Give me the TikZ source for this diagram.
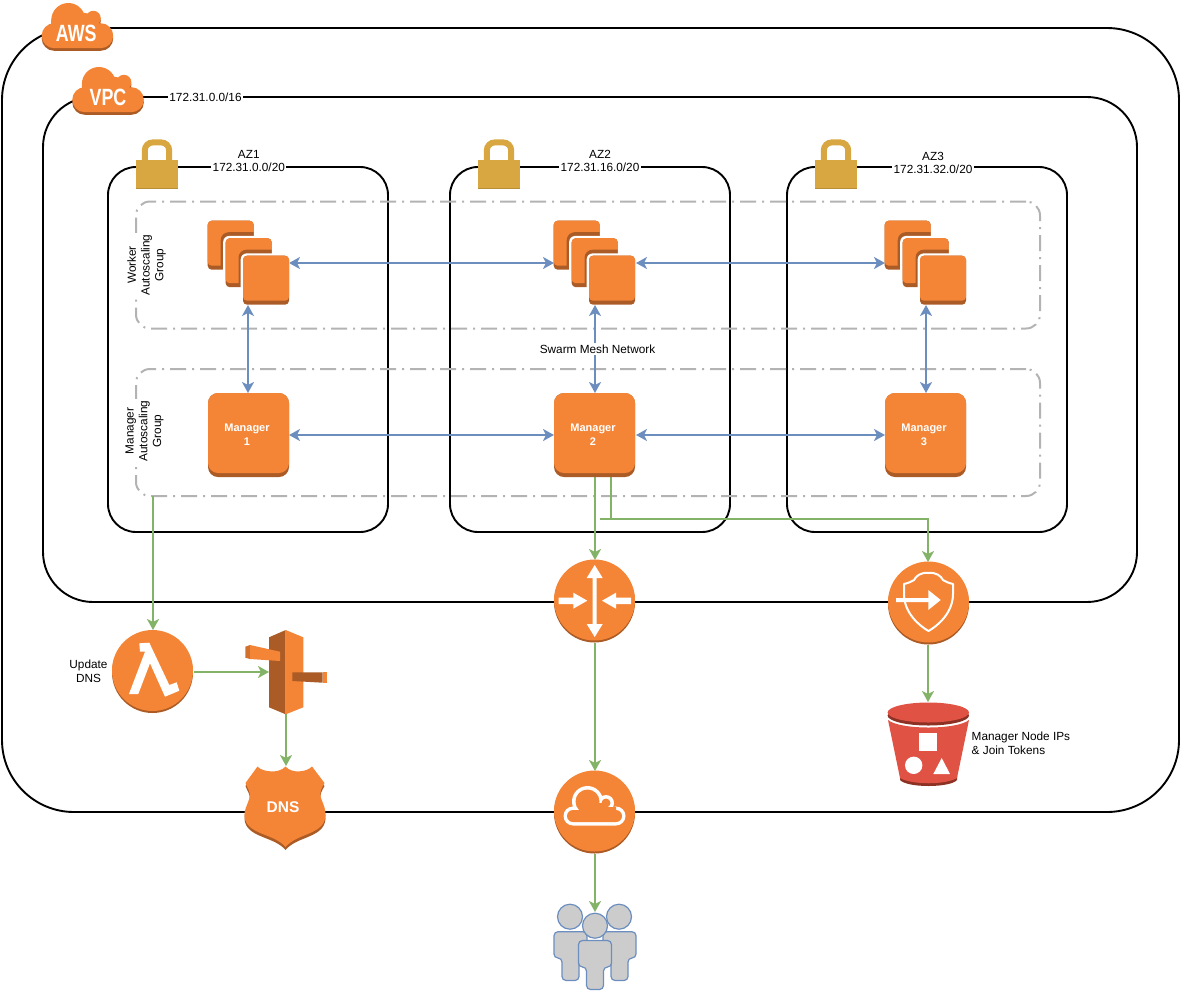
\documentclass[tikz,border=0pt]{standalone}
\usepackage{fontspec}
\setmainfont{Liberation Sans}
\usetikzlibrary{arrows.meta}
\definecolor{awsor}{HTML}{F58536}
\definecolor{awsdk}{HTML}{AB5B25}
\definecolor{awsre}{HTML}{E05243}
\definecolor{awsrd}{HTML}{8C3123}
\definecolor{lockc}{HTML}{D9A741}
\definecolor{blueln}{HTML}{6C8EBF}
\definecolor{greenln}{HTML}{82B366}
\definecolor{greyln}{HTML}{B3B3B3}
\definecolor{userc}{HTML}{CCCCCC}
\tikzset{
  frame/.style={draw=black,line width=1.9pt,inner sep=0,outer sep=0},
  asg/.style={draw=greyln,line width=2pt,dash pattern=on 16pt off 6pt on 2pt off 6pt,rounded corners=14pt,inner sep=0,outer sep=0,minimum width=904pt,minimum height=127pt},
  slot/.style={inner sep=0,outer sep=0},
  lab/.style={font=\fontsize{11.8}{13.8}\selectfont,align=center,inner sep=1.5pt,text=black},
  labw/.style={lab,fill=white},
  mgrtxt/.style={font=\fontsize{11}{14}\selectfont\bfseries,text=white,align=center,inner sep=0},
  bigtxt/.style={font=\fontsize{23.5}{26}\selectfont\bfseries,text=white,inner sep=0,xscale=.76},
  bluecon/.style={draw=blueln,line width=2pt,{Stealth[length=11pt,width=12pt,inset=3pt]}-{Stealth[length=11pt,width=12pt,inset=3pt]}},
  greencon/.style={draw=greenln,line width=2pt,-{Stealth[length=11pt,width=12pt,inset=3pt]}},
}
% cloud silhouette (no text)
\newcommand\cloudshape[1]{%
  \fill[#1] (26.6,17.3) circle[radius=17pt] (51.6,15.6) circle[radius=7.5pt]
     (42,22) circle[radius=12pt]
     (12.5,33) circle[radius=12.5pt] (59,33) circle[radius=12.5pt]
     (12.5,25) rectangle (59,45.5);}
\newcommand\bigcloud[2]{%
  \begin{scope}[shift={(#1,#2)}]
    \begin{scope}[yshift=-2.6pt]\cloudshape{awsdk}\end{scope}
    \cloudshape{awsor}
  \end{scope}}
\newcommand\lockicon[1]{%
  \begin{scope}[xshift=#1pt]
    \draw[lockc,line width=6pt,rounded corners=8pt] (144.8,162) -- (144.8,142.4) -- (169.2,142.4) -- (169.2,162);
    \fill[lockc!85!black] (136,160) rectangle (178.3,188.5);
    \fill[lockc] (136,160) rectangle (178.3,187.6);
  \end{scope}}
\newcommand\sqA[4]{\fill[rounded corners=4pt,#4] (#1,#2) rectangle ++(46,#3);}
\newcommand\stackicon[2]{%
  \begin{scope}[shift={(#1,#2)}]
    \sqA{0}{0}{49}{awsdk}\sqA{0}{0}{45}{awsor}
    \begin{scope}\clip (0,0) rectangle (46,45);
      \fill[awsdk,rounded corners=8pt] (13,11.5) rectangle (60,70);
    \end{scope}
    \fill[white,rounded corners=6pt] (15.5,15.2) rectangle (64.5,67);
    \sqA{18}{17.5}{49}{awsdk}\sqA{18}{17.5}{45}{awsor}
    \begin{scope}\clip (18,17.5) rectangle (64,62.5);
      \fill[awsdk,rounded corners=8pt] (30.8,29) rectangle (80,84);
    \end{scope}
    \fill[white,rounded corners=6pt] (33,32.7) rectangle (81.8,84.5);
    \sqA{35.3}{35}{49}{awsdk}\sqA{35.3}{35}{45}{awsor}
  \end{scope}}
\newcommand\mgricon[1]{%
  \fill[awsdk,rounded corners=10pt] (#1,393) rectangle ++(81,84);
  \fill[awsor,rounded corners=10pt] (#1,393) rectangle ++(81,80);}
\newcommand\circicon[2]{%
  \fill[awsdk] (#1,#2+1) circle[radius=40.5pt];
  \fill[awsor] (#1,#2-1) circle[radius=40.5pt];}
\newcommand\shieldpath{(257.5,766.5) .. controls (262,772) and (279,774) .. (285.5,766.5) .. controls (292,774) and (307,772) .. (312,766.5) -- (324.5,783) .. controls (322,788) and (319,791) .. (321,798) .. controls (324,806) and (326,810) .. (325.5,816) .. controls (324,835) and (297,833) .. (285.5,847) .. controls (274,833) and (246,835) .. (244.5,816) .. controls (244,810) and (247,806) .. (249.5,798) .. controls (251,791) and (247,788) .. (245.5,783) -- cycle}
\newcommand\personbody[4]{% x-left, x-right, y-top, y-shoulder ; legs are inset
  \draw[blueln,line width=1.2pt,fill=userc,rounded corners=4pt]
    (#1,#3) -- (#2,#3) -- (#2,#4) -- (#2-8,#4) -- (#2-8,#4+22.5) -- (#1+8,#4+22.5) -- (#1+8,#4) -- (#1,#4) -- cycle;}
\begin{document}
\begin{tikzpicture}[x=1pt,y=-1pt]
\useasboundingbox (0,0) rectangle (1180,991);
% frames
\node[frame,rounded corners=72pt,minimum width=1177pt,minimum height=784pt] (aws) at (590.5,420) {};
\node[frame,rounded corners=50pt,minimum width=1094pt,minimum height=505pt] (vpc) at (590,349.5) {};
\node[frame,rounded corners=28pt,minimum width=280pt,minimum height=365pt] (az1) at (248,349.5) {};
\node[frame,rounded corners=28pt,minimum width=280pt,minimum height=365pt] (az2) at (590,349.5) {};
\node[frame,rounded corners=28pt,minimum width=280pt,minimum height=365pt] (az3) at (927,349.5) {};
% autoscaling groups
\node[asg] (gw) at (588,265) {};
\node[asg] (gm) at (588,432.5) {};
% placement of the icons
\node[slot,minimum width=82pt,minimum height=84pt] (w1) at (248,263) {};
\node[slot,minimum width=82pt,minimum height=84pt] (w2) at (595,263) {};
\node[slot,minimum width=82pt,minimum height=84pt] (w3) at (926,263) {};
\node[slot,minimum width=82pt,minimum height=84pt] (m1) at (248,435) {};
\node[slot,minimum width=82pt,minimum height=84pt] (m2) at (595,435) {};
\node[slot,minimum width=82pt,minimum height=84pt] (m3) at (926,435) {};
\node[slot,minimum width=81pt,minimum height=83pt] (router) at (595,601.5) {};
\node[slot,minimum width=81pt,minimum height=83pt] (endpt) at (928,603.5) {};
\node[slot,minimum width=81pt,minimum height=84pt] (lambda) at (153,672) {};
\node[slot,minimum width=82pt,minimum height=84pt] (gate) at (286,672) {};
\node[slot,minimum width=82pt,minimum height=84pt] (dns) at (286,808) {};
\node[slot,minimum width=81pt,minimum height=83pt] (igw) at (595,812.5) {};
\node[slot,minimum width=82pt,minimum height=84pt] (s3) at (928,744) {};
\node[slot,minimum width=82pt,minimum height=78pt] (users) at (595,951) {};
\node[slot,minimum width=17pt,minimum height=84pt] (gateface) at (277.5,672) {};
% connectors
\draw[bluecon] (w1.east) -- (w2.west);
\draw[bluecon] (w2.east) -- (w3.west);
\draw[bluecon] (m1.east) -- (m2.west);
\draw[bluecon] (m2.east) -- (m3.west);
\draw[bluecon] (w1.south) -- (m1.north);
\draw[bluecon] (w2.south) -- (m2.north);
\draw[bluecon] (w3.south) -- (m3.north);
\draw[greencon] (gm.south west -| lambda.north) -- (lambda.north);
\draw[greencon] (m2.south) -- (router.north);
\draw[greencon] ([xshift=16pt]m2.south) |- (600,519) -| (endpt.north);
\draw[greencon] (router.south) -- (igw.north);
\draw[greencon] (endpt.south) -- (s3.north);
\draw[greencon] (lambda.east) -- (gateface.west);
\draw[greencon] (gate.south) -- (dns.north);
\draw[greencon] (igw.south) -- (users.north);
% clouds
\bigcloud{41.7}{2.7}
\bigcloud{72.3}{66.7}
\node[bigtxt] (awst) at (76.3,33.5) {AWS};
\node[bigtxt] (vpct) at (108,97.5) {VPC};
% locks
\lockicon{0}\lockicon{342}\lockicon{679}
% stacks and managers
\stackicon{207.7}{220.7}\stackicon{553.7}{220.7}\stackicon{884.7}{220.7}
\mgricon{208}\mgricon{554}\mgricon{885}
\node[mgrtxt] (m1t) at (247,435) {Manager\\1};
\node[mgrtxt] (m2t) at (593,435) {Manager\\2};
\node[mgrtxt] (m3t) at (924,435) {Manager\\3};
% router
\circicon{594.5}{601}
\fill[white] (594.7,565) -- (602.7,578) -- (596.7,578) -- (596.7,624) -- (602.7,624) -- (594.7,637) -- (586.7,624) -- (592.7,624) -- (592.7,578) -- (586.7,578) -- cycle;
\fill[white] (558.7,597.5) -- (573.3,597.5) -- (573.3,592.7) -- (587.3,600.7) -- (573.3,608.7) -- (573.3,604) -- (558.7,604) -- cycle;
\fill[white] (631,597.5) -- (616,597.5) -- (616,592.7) -- (602,600.7) -- (616,608.7) -- (616,604) -- (631,604) -- cycle;
% endpoint
\circicon{928.5}{603}
\draw[white,line width=2pt,line join=round] (928.5,573) .. controls (921,572) and (916,576) .. (914,580) .. controls (911,582) and (908,583) .. (904,584) -- (904,594) .. controls (904,612) and (918,625) .. (928.5,631) .. controls (939,625) and (953,612) .. (953,594) -- (953,584) .. controls (949,583) and (946,582) .. (943,580) .. controls (941,576) and (936,572) .. (928.5,573) -- cycle;
\fill[white] (896,598) -- (928.3,598) -- (928.3,590) -- (940.7,600) -- (928.3,610) -- (928.3,602) -- (896,602) -- cycle;
% lambda
\circicon{152.5}{671.5}
\fill[white] (139.3,643.3) -- (149.3,642.7) -- (169.3,685) -- (176.7,682.3) -- (179.3,690.7) -- (165,696.7) -- (150,663.3) -- (138.3,694) -- (129,694) -- (145,651.7) -- (140,651.7) -- cycle;
% gateway
\fill[awsdk] (269,637.3) -- (285.7,630) -- (285.7,714.3) -- (269,707.3) -- cycle;
\fill[awsor] (285.7,630) -- (303.3,637.3) -- (303.3,707.3) -- (285.7,714.3) -- cycle;
\fill[awsor!85!black] (245.3,646.7) -- (250,645) -- (250,659) -- (245.3,657.7) -- cycle;
\fill[awsor] (250,645) -- (280,651.7) -- (280,661) -- (250,659) -- cycle;
\fill[awsdk] (292.3,672.3) -- (322.7,672.3) -- (322.7,682.7) -- (292.3,681) -- cycle;
\fill[awsor] (322.7,672.3) -- (327,672.3) -- (327,682.7) -- (322.7,682.7) -- cycle;
% dns
\begin{scope}[yshift=-3pt]\fill[awsdk] \shieldpath;\end{scope}
\fill[awsor] \shieldpath;
\node[font=\fontsize{15.5}{18}\selectfont\bfseries,text=white,inner sep=0] (dnst) at (283,806.7) {DNS};
% internet gateway
\circicon{594.5}{812}
\fill[white] (573,816) circle[radius=9.5pt] (587.5,801.5) circle[radius=15.5pt] (606,803) circle[radius=8pt] (616,816) circle[radius=9.5pt] (573,812) rectangle (616,825.5);
\fill[awsor] (573,816) circle[radius=6pt] (587.5,801.5) circle[radius=12pt] (606,803) circle[radius=4.5pt] (616,816) circle[radius=6pt] (573,810) rectangle (616,822) (580,803) rectangle (606,812) (606,807) rectangle (616,812);
% s3
\fill[awsrd] (900,776) -- (957,776) -- (957,780) .. controls (950,788) and (907,788) .. (900,780) -- cycle;
\fill[awsre] (888,720) .. controls (900,730) and (957,730) .. (969,720) -- (957,778) .. controls (945,785) and (912,785) .. (900,778) -- cycle;
\fill[awsrd] (928.3,715.5) ellipse[x radius=40.7pt,y radius=10pt];
\fill[awsre] (928.3,712.5) ellipse[x radius=40.7pt,y radius=10pt];
\fill[white] (919,733.3) rectangle (936.7,750.7);
\fill[white] (913.7,765.3) circle[radius=8.7pt];
\fill[white] (941.7,758) -- (950,774) -- (933.3,774) -- cycle;
% users
\draw[blueln,line width=1.2pt,fill=userc] (570,916.7) circle[radius=12.5pt];
\draw[blueln,line width=1.2pt,fill=userc] (619,916.7) circle[radius=12.5pt];
\personbody{554}{587}{931.7}{958}
\personbody{603}{636}{931.7}{958}
\draw[blueln,line width=1.2pt,fill=userc] (595,925.7) circle[radius=12.5pt];
\personbody{578.5}{611.5}{940.5}{967}
% labels
\node[labw] (vpccidr) at (205.5,97) {172.31.0.0/16};
\node[labw,fill=none] (az1t) at (248.8,154) {AZ1};
\node[labw,inner sep=1.5pt] (az1c) at (248.8,167.5) {172.31.0.0/20};
\node[labw,fill=none] (az2t) at (600,154) {AZ2};
\node[labw] (az2c) at (600,167.5) {172.31.16.0/20};
\node[labw,fill=none] (az3t) at (933,156) {AZ3};
\node[labw] (az3c) at (933,169.5) {172.31.32.0/20};
\node[labw,rotate=90] (wgl) at (146.5,265) {Worker\\Autoscaling\\Group};
\node[labw,rotate=90] (mgl) at (144.5,431) {Manager\\Autoscaling\\Group};
\node[labw] (swarm) at (597.5,349) {Swarm Mesh Network};
\node[lab] (upd) at (88.5,671.5) {Update\\DNS};
\node[lab,align=left,anchor=west,inner sep=0] (s3l) at (971.5,743.5) {Manager Node IPs\\\& Join Tokens};
\end{tikzpicture}
\end{document}
